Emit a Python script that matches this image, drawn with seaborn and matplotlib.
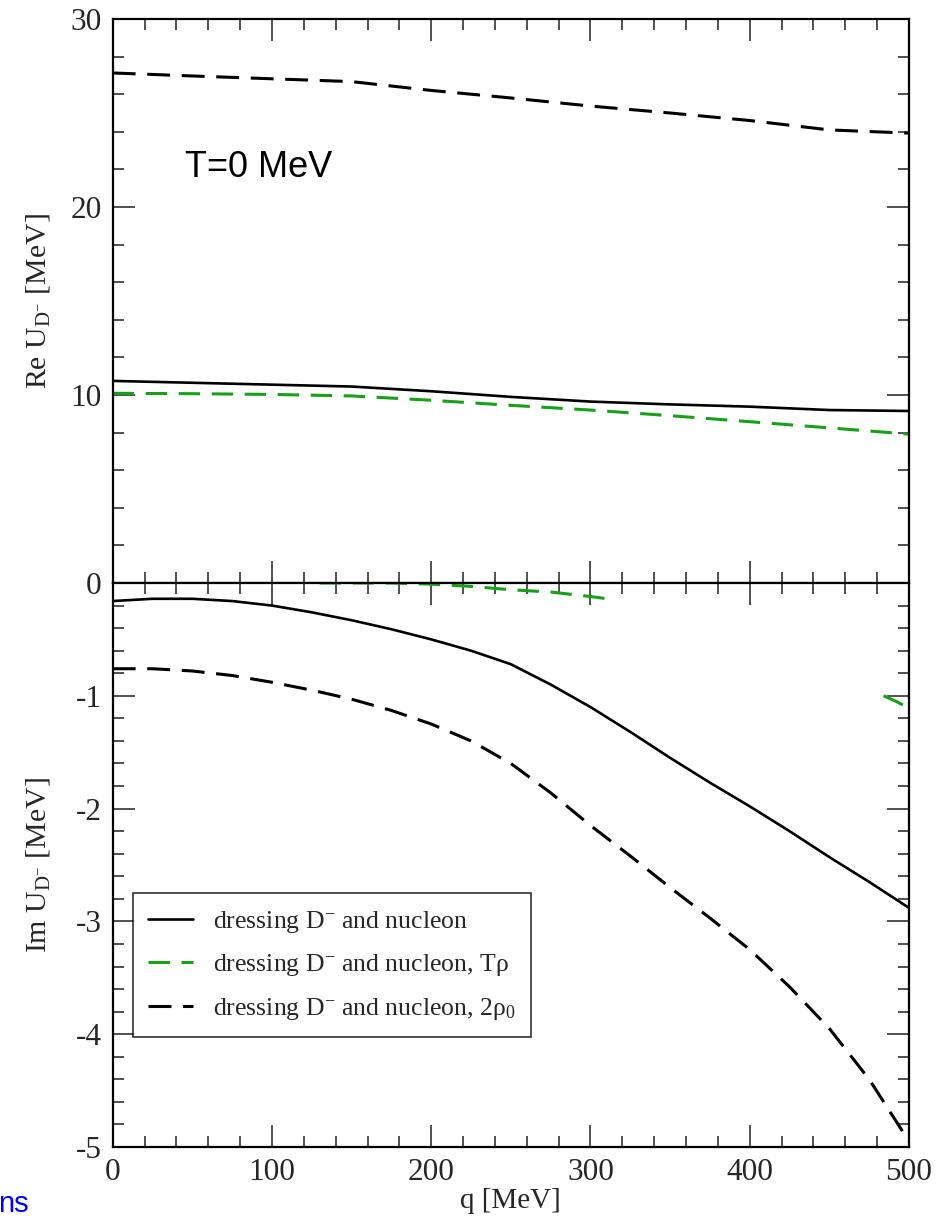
import matplotlib
matplotlib.use("Agg")
import matplotlib.pyplot as plt
import seaborn as sns
import pandas as pd
from matplotlib.ticker import MultipleLocator

# ---------------- data ----------------
q_re = [0, 50, 100, 150, 200, 250, 300, 350, 400, 450, 500]
re_solid = [10.75, 10.65, 10.55, 10.45, 10.2, 9.9, 9.65, 9.5, 9.38, 9.2, 9.15]
re_green = [10.09, 10.07, 10.03, 9.95, 9.72, 9.45, 9.2, 8.9, 8.58, 8.25, 7.92]
re_2rho = [27.13, 26.97, 26.82, 26.67, 26.2, 25.8, 25.37, 25.0, 24.6, 24.1, 23.93]

q_im = [0, 25, 50, 75, 100, 125, 150, 175, 200, 225, 250, 275, 300, 325, 350, 375, 400, 425, 450, 475, 500]
im_solid = [-0.16, -0.14, -0.14, -0.16, -0.2, -0.26, -0.33, -0.41, -0.5, -0.6, -0.72, -0.9, -1.1,
            -1.32, -1.55, -1.77, -1.98, -2.2, -2.43, -2.65, -2.88]
im_2rho = [-0.76, -0.76, -0.78, -0.82, -0.88, -0.95, -1.03, -1.13, -1.25, -1.4, -1.6, -1.86, -2.15,
           -2.42, -2.7, -2.97, -3.25, -3.58, -3.95, -4.4, -4.95]
# green Im curve: only the visible pieces of the reference
q_im_green_a = [130, 150, 175, 200, 225, 250, 275, 300, 316]
im_green_a = [0.0, 0.0, 0.0, -0.01, -0.03, -0.06, -0.08, -0.12, -0.15]
q_im_green_b = [484, 492, 500]
im_green_b = [-1.0, -1.05, -1.11]

labels = ["dressing D$^{-}$ and nucleon",
          "dressing D$^{-}$ and nucleon, T$\\rho$",
          "dressing D$^{-}$ and nucleon, 2$\\rho_0$"]
x_ticks = [0, 100, 200, 300, 400, 500]
re_ticks = [0, 10, 20, 30]
im_ticks = [-5, -4, -3, -2, -1]

# ---------------- style ----------------
sns.set_theme(style="ticks")
plt.rcParams["font.family"] = ["Liberation Serif", "DejaVu Serif"]
plt.rcParams["mathtext.fontset"] = "custom"
plt.rcParams["mathtext.rm"] = "Liberation Serif"
plt.rcParams["mathtext.it"] = "Liberation Serif:italic"
plt.rcParams["mathtext.default"] = "regular"
plt.rcParams["axes.unicode_minus"] = False

GREEN = "#18a018"
LW_S = 1.9
LW_D = 2.2
DASH = (0, (7.5, 3.8))
GDASH = (0, (7.0, 3.8))

fig = plt.figure(figsize=(9.49, 12.22), dpi=100)
W, H = 949, 1222
left, right = 112.7, 909
ax1 = fig.add_axes([left / W, 1 - 583 / H, (right - left) / W, 564 / H])
ax2 = fig.add_axes([left / W, 1 - 1147 / H, (right - left) / W, 564 / H])

df_re = pd.DataFrame({"q": q_re, "solid": re_solid, "green": re_green, "rho2": re_2rho})
df_im = pd.DataFrame({"q": q_im, "solid": im_solid, "rho2": im_2rho})
df_ga = pd.DataFrame({"q": q_im_green_a, "v": im_green_a})
df_gb = pd.DataFrame({"q": q_im_green_b, "v": im_green_b})

sns.lineplot(data=df_re, x="q", y="solid", ax=ax1, color="black", lw=LW_S)
sns.lineplot(data=df_re, x="q", y="green", ax=ax1, color=GREEN, lw=LW_D, linestyle=GDASH)
sns.lineplot(data=df_re, x="q", y="rho2", ax=ax1, color="black", lw=LW_D, linestyle=DASH)

sns.lineplot(data=df_im, x="q", y="solid", ax=ax2, color="black", lw=LW_S, label=labels[0])
sns.lineplot(data=df_ga, x="q", y="v", ax=ax2, color=GREEN, lw=LW_D,
             linestyle=GDASH, label=labels[1])
sns.lineplot(data=df_gb, x="q", y="v", ax=ax2, color=GREEN, lw=LW_D,
             linestyle=GDASH, label="_nolegend_")
sns.lineplot(data=df_im, x="q", y="rho2", ax=ax2, color="black", lw=LW_D,
             linestyle=DASH, label=labels[2])

for ax in (ax1, ax2):
    ax.set_xlim(0, 500)
    ax.xaxis.set_major_locator(MultipleLocator(100))
    ax.xaxis.set_minor_locator(MultipleLocator(20))
    ax.tick_params(which="both", direction="in", top=True, right=True, left=True, bottom=True,
                   color="#222222")
    ax.tick_params(which="major", length=15.5, width=1.1, labelsize=22.5, pad=8)
    ax.tick_params(which="minor", length=7.8, width=1.1)
    for s in ax.spines.values():
        s.set_linewidth(1.6)
        s.set_color("black")
    ax.set_facecolor("white")

ax1.set_ylim(0, 30)
ax1.set_yticks(re_ticks)
ax1.yaxis.set_minor_locator(MultipleLocator(2))
ax1.set_xticks(x_ticks)
ax1.tick_params(labelbottom=False)
ax1.set_xlabel("")
ax1.set_ylabel("Re U$_{D^{-}}$ [MeV]", fontsize=21.5)
ax1.yaxis.set_label_coords(-0.076, 0.5)

ax2.set_ylim(-5, 0)
ax2.set_yticks(im_ticks)
ax2.yaxis.set_minor_locator(MultipleLocator(0.2))
ax2.set_xticks(x_ticks)
ax2.set_xticklabels([str(t) for t in x_ticks])
ax2.set_xlabel("q [MeV]", fontsize=21, labelpad=1)
ax2.set_ylabel("Im U$_{D^{-}}$ [MeV]", fontsize=21.5)
ax2.yaxis.set_label_coords(-0.076, 0.5)

ax1.text(45.5, 22.1, "T=0 MeV", family=["Liberation Sans", "DejaVu Sans"], fontsize=26,
         ha="left", va="center", color="black")

leg = ax2.legend(loc="upper left", bbox_to_anchor=(0.0255, 0.45), borderaxespad=0,
                 fontsize=18.5, frameon=True, fancybox=False, edgecolor="black",
                 handlelength=1.75, handletextpad=0.78, labelspacing=0.68,
                 borderpad=0.6)
leg.get_frame().set_linewidth(1.2)

fig.text(-2 / W, 1 - 1204 / H, "ns", color="#0000ff", fontsize=21,
         family=["Liberation Sans", "DejaVu Sans"], ha="left", va="center")

fig.savefig("out.png", dpi=100, facecolor="white")
